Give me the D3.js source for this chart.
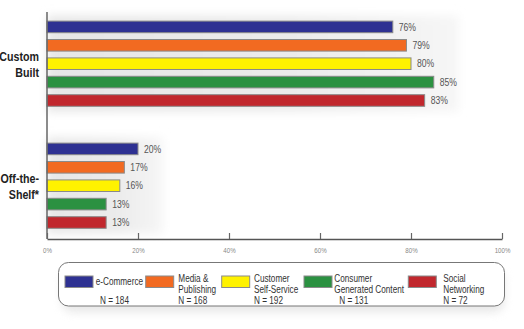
<!DOCTYPE html>
<html>
<head>
  <style>
    body { margin: 0; background: #fff; }
    text { font-family: "Liberation Sans", Arial, sans-serif; }
  </style>
</head>
<body>
  <svg id="chart" width="524" height="329"></svg>
  <script src="https://d3js.org/d3.v7.min.js"></script>
  <script>
    const groups = ['Custom Built', 'Off-the-Shelf*']
    const groupLines = [['Custom', 'Built'], ['Off-the-', 'Shelf*']]
    const series = ['e-Commerce', 'Media & Publishing', 'Customer Self-Service', 'Consumer Generated Content', 'Social Networking']
    const customBuilt = [76, 79, 80, 85, 83]
    const offTheShelf = [20, 17, 16, 13, 13]
    const ticks = [0, 20, 40, 60, 80, 100]
    const sampleSizes = [184, 168, 192, 131, 72]
    const legendLines = [['e-Commerce'], ['Media &', 'Publishing'], ['Customer', 'Self-Service'], ['Consumer', 'Generated Content'], ['Social', 'Networking']]
    const colors = ['#2e3192', '#f26a21', '#fff200', '#2b9141', '#c1272d']

    const values = [customBuilt, offTheShelf]
    const svg = d3.select('#chart')

    // no narrow font installed: squeeze glyphs horizontally instead
    function condense(node, k = 0.82) {
      const w = node.getComputedTextLength()
      d3.select(node).attr('textLength', w * k).attr('lengthAdjust', 'spacingAndGlyphs')
    }

    const x = d3.scaleLinear().domain([0, 100]).range([47, 502])
    const y0 = d3.scaleBand().domain(groups).range([17.7, 231.7]).paddingInner(0.246)
    const y1 = d3.scaleBand().domain(series).range([0, y0.bandwidth()]).paddingInner(0.37).paddingOuter(0.185)
    const color = d3.scaleOrdinal().domain(series).range(colors)

    const defs = svg.append('defs')
    defs.append('filter').attr('id', 'blur').attr('x', '-20%').attr('y', '-40%').attr('width', '140%').attr('height', '180%')
      .append('feGaussianBlur').attr('stdDeviation', 5)
    const grad = defs.append('linearGradient').attr('id', 'fade')
    grad.append('stop').attr('offset', '0%').attr('stop-color', '#e6e6e6')
    grad.append('stop').attr('offset', '60%').attr('stop-color', '#ebebeb')
    grad.append('stop').attr('offset', '100%').attr('stop-color', '#f6f6f6')

    // soft shadow behind each group
    groups.forEach((g, i) => {
      svg.append('rect')
        .attr('x', x(0))
        .attr('y', y0(g) - 2)
        .attr('width', x(d3.max(values[i])) - x(0) + 25)
        .attr('height', y0.bandwidth() + 4)
        .attr('fill', 'url(#fade)')
        .attr('filter', 'url(#blur)')
    })

    // bars
    groups.forEach((g, i) => {
      const grp = svg.append('g').attr('transform', `translate(0,${y0(g)})`)
      grp.selectAll('rect').data(series).enter().append('rect')
        .attr('x', x(0))
        .attr('y', d => y1(d))
        .attr('width', (d, j) => x(values[i][j]) - x(0))
        .attr('height', y1.bandwidth())
        .attr('fill', d => color(d))
        .attr('stroke', '#8a8a8a')
        .attr('stroke-width', 1)
      grp.selectAll('text.val').data(series).enter().append('text')
        .attr('class', 'val')
        .attr('x', (d, j) => x(values[i][j]) + 6)
        .attr('y', d => y1(d) + y1.bandwidth() / 2)
        .attr('dy', '0.35em')
        .attr('font-size', 10.5)
        .attr('fill', '#555')
        .text((d, j) => values[i][j] + '%')
        .each(function () { condense(this) })

      const lab = svg.append('text')
        .attr('text-anchor', 'end')
        .attr('font-size', 13)
        .attr('font-weight', 'bold')
        .attr('fill', '#222')
      groupLines[i].forEach((t, k) => {
        lab.append('tspan').attr('x', 39)
          .attr('y', y0(g) + y0.bandwidth() / 2 + (k === 0 ? -3 : 13))
          .text(t)
      })
      lab.selectAll('tspan').each(function () { condense(this) })
    })

    // axes
    const axisY = 239
    const axis = svg.append('g').attr('transform', `translate(0,${axisY})`)
      .call(d3.axisBottom(x).tickValues(ticks).tickFormat(d => d + '%').tickSizeInner(-6).tickSizeOuter(0).tickPadding(9))
    axis.select('.domain').attr('stroke', '#555').attr('stroke-width', 1.5)
    axis.selectAll('.tick line').attr('stroke', '#666').attr('stroke-width', 1.2)
    axis.selectAll('.tick text').attr('font-size', 7.5).attr('fill', '#888')
      .style('font-family', '"Liberation Sans", sans-serif')
      .each(function () { condense(this) })
    svg.append('line')
      .attr('x1', x(0)).attr('x2', x(0))
      .attr('y1', 12).attr('y2', axisY)
      .attr('stroke', '#666').attr('stroke-width', 1.5)

    // legend
    svg.append('rect')
      .attr('x', 62).attr('y', 270).attr('width', 442).attr('height', 42).attr('rx', 10)
      .attr('fill', '#ddd').attr('filter', 'url(#blur)').attr('opacity', 0.7)
    svg.append('rect')
      .attr('x', 58.5).attr('y', 262.5).attr('width', 446).attr('height', 43.5).attr('rx', 10)
      .attr('fill', '#fff').attr('stroke', '#777').attr('stroke-width', 1)

    const legendX = [65, 145.7, 221.7, 304, 408.3]
    const textX = [95.7, 178.3, 254, 334.3, 443.3]
    const nX = [100, 178.3, 254, 339.3, 443.3]
    const leg = svg.append('g')
    series.forEach((s, i) => {
      leg.append('rect')
        .attr('x', legendX[i]).attr('y', 276).attr('width', 28).attr('height', 11.5)
        .attr('fill', color(s)).attr('stroke', '#8a8a8a')
      const lines = legendLines[i]
      const t = leg.append('text').attr('font-size', 10).attr('fill', '#333')
      lines.forEach((ln, k) => {
        const yy = lines.length === 1 ? 285 : 281.5 + k * 11.5
        t.append('tspan').attr('x', textX[i]).attr('y', yy).text(ln)
      })
      t.selectAll('tspan').each(function () { condense(this) })
      leg.append('text').attr('font-size', 10).attr('fill', '#333')
        .attr('x', nX[i]).attr('y', 304)
        .text('N = ' + sampleSizes[i])
        .each(function () { condense(this) })
    })
  </script>
</body>
</html>
